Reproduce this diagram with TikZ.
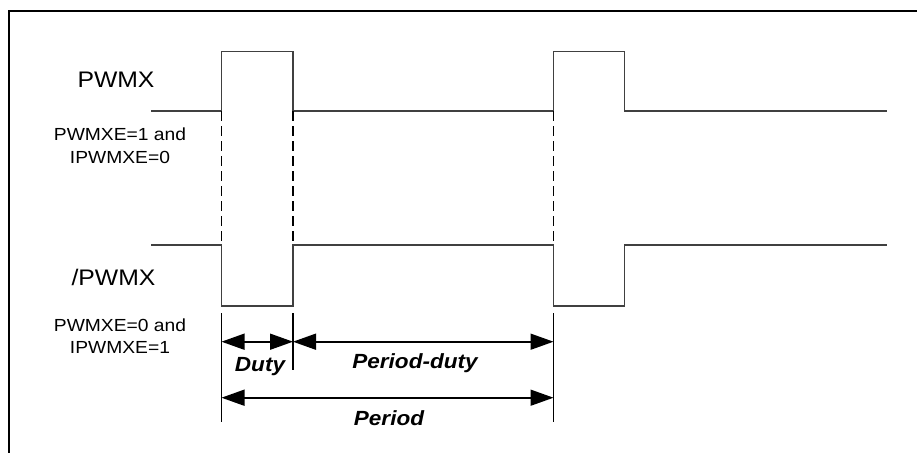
\documentclass[tikz,border=0pt]{standalone}
\usepackage{fontspec}
\setmainfont{Liberation Sans}[FakeStretch=1.1]
\usetikzlibrary{arrows.meta}
\begin{document}
\begin{tikzpicture}[x=1pt,y=-1pt,
  sig/.style={line width=1.6pt, draw=black!75},
  guide/.style={line width=1.8pt, draw=black, dash pattern=on 10pt off 5pt},
  ext/.style={line width=1.5pt, draw=black},
  dim/.style={line width=1.6pt, draw=black, {Triangle[length=23pt,width=16pt]}-{Triangle[length=23pt,width=16pt]}},
  bigl/.style={anchor=base, inner sep=0pt, font=\fontsize{22.5}{26}\selectfont},
  smalll/.style={anchor=base, inner sep=0pt, font=\fontsize{17.5}{21}\selectfont},
  diml/.style={anchor=base, inner sep=0pt, font=\fontsize{20.5}{24}\selectfont\bfseries\itshape}]
\useasboundingbox (0,0) rectangle (917,452);
% frame
\draw[line width=2.6pt] (9,453) -- (9,11) -- (918,11);
% key coordinates
\coordinate (aL) at (151,111);   \coordinate (aR) at (887,111);
\coordinate (bL) at (151,245);   \coordinate (bR) at (887,245);
\coordinate (a1) at (221.5,111); \coordinate (a2) at (293,111); \coordinate (a3) at (553.5,111); \coordinate (a4) at (624.5,111);
\coordinate (b1) at (221.5,245); \coordinate (b2) at (293,245); \coordinate (b3) at (553.5,245); \coordinate (b4) at (624.5,245);
% PWMX waveform
\draw[sig] (aL) -- (a1) |- (293,51.5) -- (a2) -- (a3) |- (624.5,51.5) -- (a4) -- (aR);
% /PWMX waveform
\draw[sig] (bL) -- (b1) |- (293,306) -- (b2) -- (b3) |- (624.5,306) -- (b4) -- (bR);
% dashed guides
\draw[guide] (a1) -- (b1);
\draw[guide] (a2) -- (b2);
\draw[guide] (a3) -- (b3);
% extension lines
\coordinate (e1t) at (221.5,313); \coordinate (e1b) at (221.5,422);
\coordinate (e2t) at (293,313);   \coordinate (e2b) at (293,370);
\coordinate (e3t) at (553.5,313); \coordinate (e3b) at (553.5,422);
\draw[ext] (e1t) -- (e1b);
\draw[ext] (e2t) -- (e2b);
\draw[ext] (e3t) -- (e3b);
% dimension arrows
\coordinate (d1) at (221.5,341.7); \coordinate (d2) at (293,341.7); \coordinate (d3) at (553.5,341.7);
\coordinate (p1) at (221.5,397.7); \coordinate (p3) at (553.5,397.7);
\draw[dim] (d1) -- (d2);
\draw[dim] (d2) -- (d3);
\draw[dim] (p1) -- (p3);
% labels
\node[bigl] (pwmx) at (116,87.3) {PWMX};
\node[smalll] (c1a) at (120,140.7) {PWMXE=1 and};
\node[smalll] (c1b) at (120,163) {IPWMXE=0};
\node[bigl] (npwmx) at (113.5,285) {/PWMX};
\node[smalll] (c2a) at (120,331) {PWMXE=0 and};
\node[smalll] (c2b) at (120,353.3) {IPWMXE=1};
\node[diml] (duty) at (260,371) {Duty};
\node[diml] (pduty) at (415,368.3) {Period-duty};
\node[diml] (period) at (389,425) {Period};
\end{tikzpicture}
\end{document}
